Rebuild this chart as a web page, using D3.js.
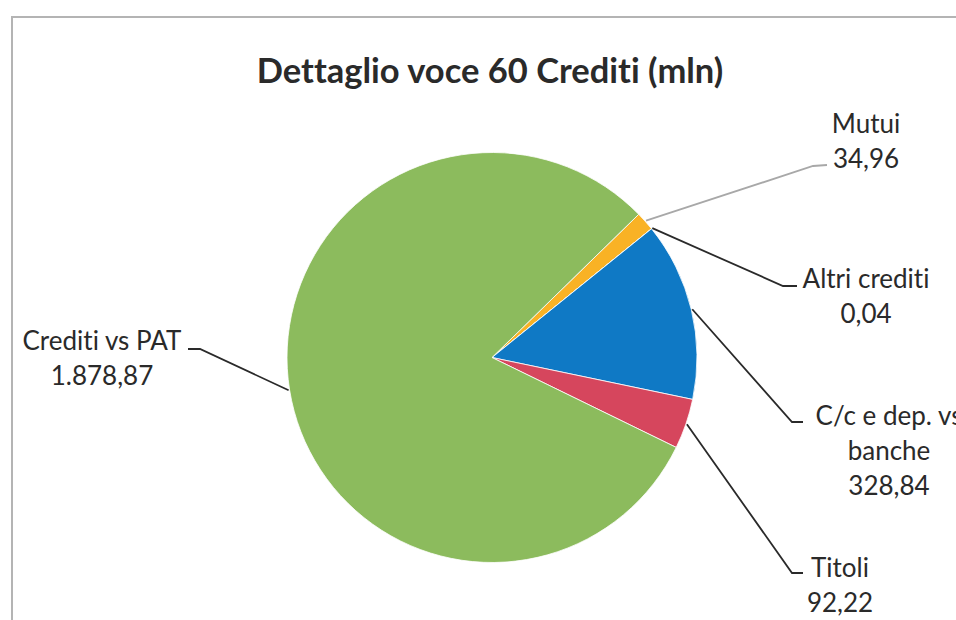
<!DOCTYPE html>
<html>
<head>
<meta charset="utf-8">
<script src="https://cdn.jsdelivr.net/npm/d3@7"></script>
<style>
  html, body { margin: 0; padding: 0; background: #fff; }
  svg { display: block; }
  text { font-family: Lato, "Open Sans", sans-serif; fill: #2a2a2a; font-variant-ligatures: none; }
</style>
</head>
<body>
<svg id="chart" width="956" height="620"></svg>
<script>
// Slice data, in drawing order (clockwise)
const categories = ["Mutui", "Altri crediti", "C/c e dep. vs banche", "Titoli", "Crediti vs PAT"];
const values = [34.96, 0.04, 328.84, 92.22, 1878.87];
const labelLines = [["Mutui"], ["Altri crediti"], ["C/c e dep. vs", "banche"], ["Titoli"], ["Crediti vs PAT"]];
const colors = ["#f9b225", "#f9b225", "#0f79c5", "#d6465d", "#8cbb5d"];
const title = "Dettaglio voce 60 Crediti (mln)";

// Label placement: text centre x, first baseline y, leader elbow and end points
const labelLayout = [
  { x: 866, y: 133, elbow: [813, 166], end: [827, 165], stroke: "#a8a8a8" },
  { x: 866, y: 288, elbow: [783, 286], end: [797, 286], stroke: "#2a2a2a" },
  { x: 889, y: 425, elbow: [792, 422], end: [803, 422], stroke: "#2a2a2a" },
  { x: 840, y: 577, elbow: [792, 573], end: [803, 573], stroke: "#2a2a2a" },
  { x: 102, y: 350, elbow: [200, 349], end: [188, 349], stroke: "#2a2a2a" }
];

const it = d3.formatLocale({ decimal: ",", thousands: ".", grouping: [3], currency: ["€", ""] });
const fmt = it.format(",.2f");

const svg = d3.select("#chart");
const W = 956, H = 620;
const cx = 492, cy = 357.5, R = 205;
const lineH = 35;

// chart frame
svg.append("path")
  .attr("d", `M12,${H} L12,17 L${W},17`)
  .attr("fill", "none")
  .attr("stroke", "#b4b4b4")
  .attr("stroke-width", 2);

svg.append("text")
  .attr("x", 490)
  .attr("y", 83)
  .attr("text-anchor", "middle")
  .attr("font-weight", "bold")
  .attr("font-size", 34.5)
  .text(title);

const startAngle = 45.7 * Math.PI / 180;
const pie = d3.pie().sort(null).value(d => d)
  .startAngle(startAngle).endAngle(startAngle + 2 * Math.PI);
const arcs = pie(values);

const arc = d3.arc().innerRadius(0).outerRadius(R);
const edge = d3.arc().innerRadius(R + 1).outerRadius(R + 1);

const g = svg.append("g").attr("transform", `translate(${cx},${cy})`);
g.selectAll("path.slice")
  .data(arcs)
  .join("path")
  .attr("class", "slice")
  .attr("d", arc)
  .attr("fill", (d, i) => colors[i])
  .attr("stroke", "#ffffff")
  .attr("stroke-width", 0.8);

// leader lines
const line = d3.line();
arcs.forEach((d, i) => {
  const c = edge.centroid(d);
  const L = labelLayout[i];
  svg.append("path")
    .attr("d", line([[cx + c[0], cy + c[1]], L.elbow, L.end]))
    .attr("fill", "none")
    .attr("stroke", L.stroke)
    .attr("stroke-width", 1.8);
});

// labels: category lines followed by the value
arcs.forEach((d, i) => {
  const L = labelLayout[i];
  const lines = labelLines[i].concat([fmt(values[i])]);
  const t = svg.append("text")
    .attr("text-anchor", "middle")
    .attr("font-size", 26);
  lines.forEach((s, k) => {
    t.append("tspan").attr("x", L.x).attr("y", L.y + k * lineH).text(s);
  });
});
</script>
</body>
</html>
